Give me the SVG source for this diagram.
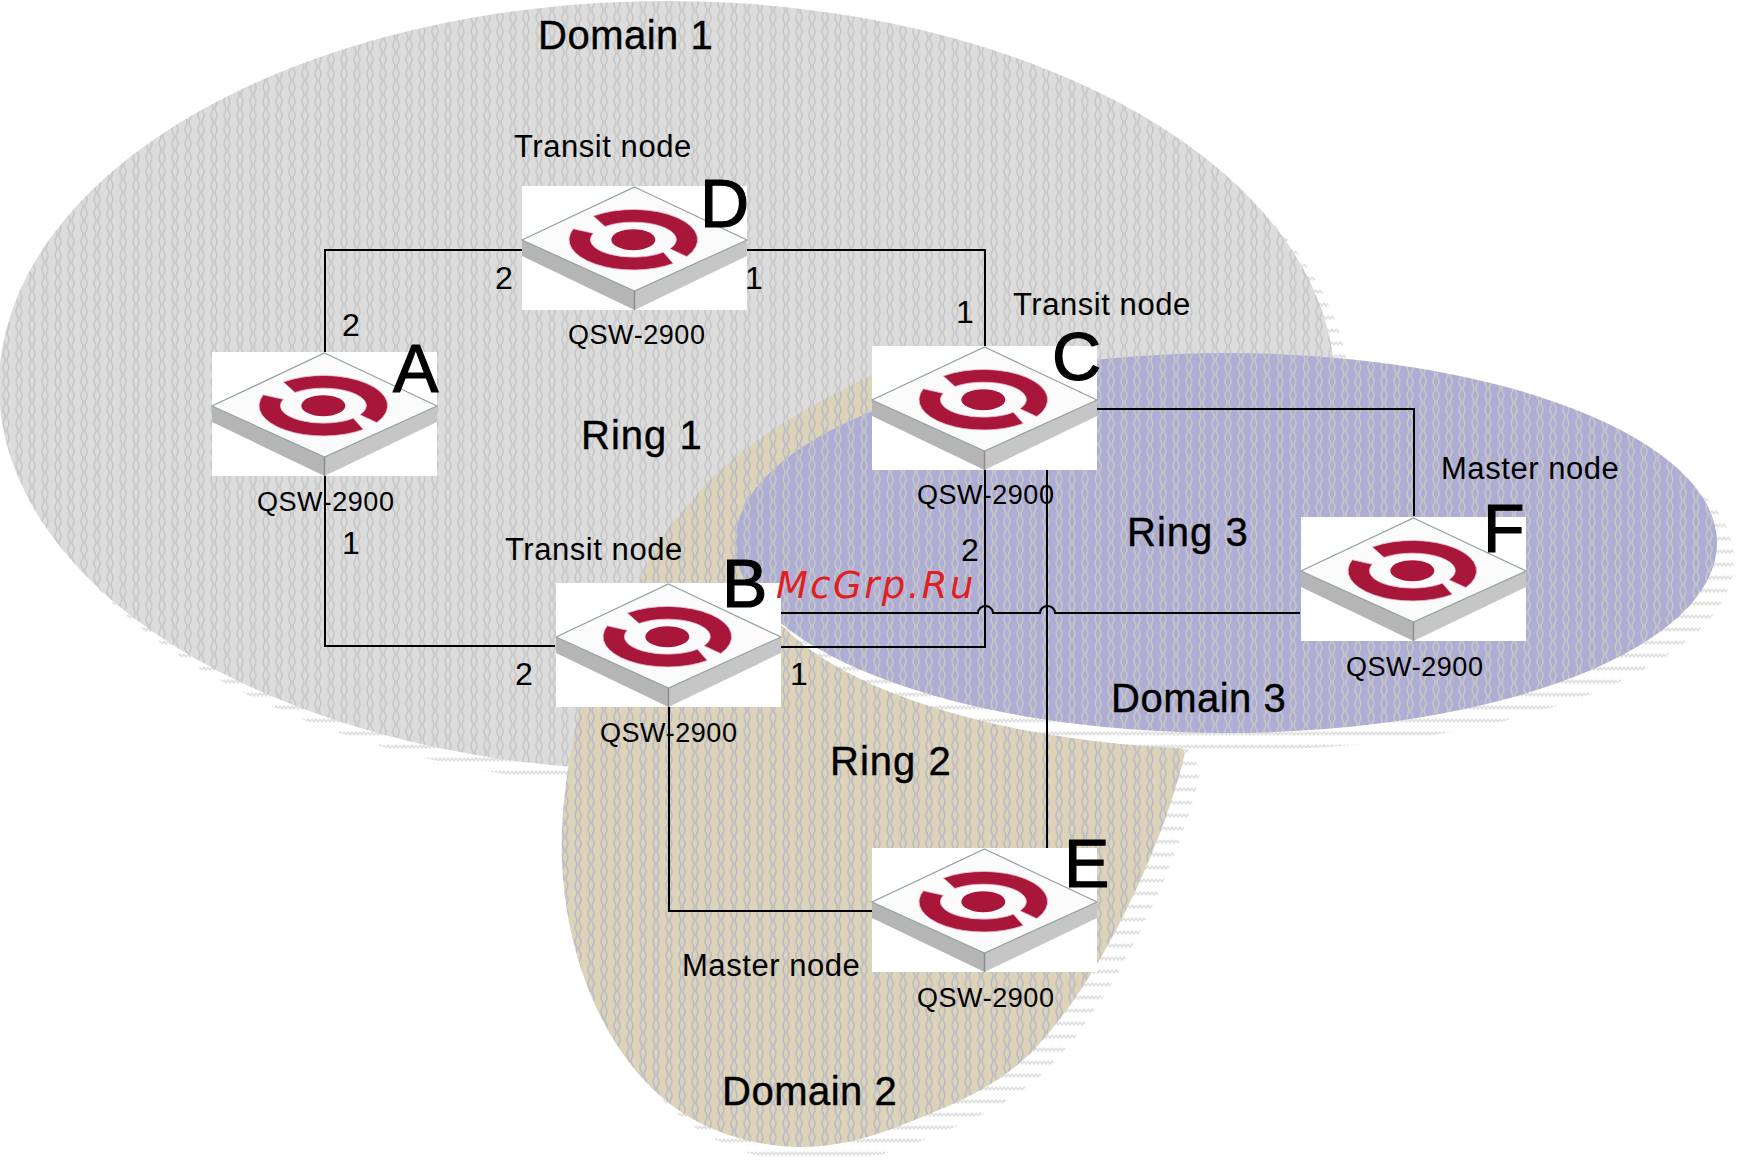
<svg xmlns="http://www.w3.org/2000/svg" xmlns:xlink="http://www.w3.org/1999/xlink" width="1737" height="1168" viewBox="0 0 1737 1168">
<style>
text{font-family:"Liberation Sans",Arial,sans-serif;fill:#000}
.dom{font-size:40px;letter-spacing:.5px;stroke:#000;stroke-width:.4px}
.ring{font-size:40px;letter-spacing:1px;stroke:#000;stroke-width:.4px}
.role{font-size:31px;letter-spacing:.55px}
.model{font-size:27px;letter-spacing:.55px}
.port{font-size:32px}
.letter{font-size:68px;stroke:#000;stroke-width:1.2px}
.wire{fill:none;stroke:#000;stroke-width:2}
.mark{font-family:"DejaVu Sans",sans-serif;font-style:italic;font-size:37px;letter-spacing:2.4px;fill:#e02020}
.shadow{fill:url(#pShadow)}
</style>
<defs>
<pattern id="pGray" width="13" height="14" patternUnits="userSpaceOnUse">
<rect width="13" height="14" fill="#dcdcdc"/>
<path d="M4 0q-2 3.500 0 7q2 3.500 0 7M8 0q2 3.500 0 7q-2 3.500 0 7" fill="none" stroke="#c8c8c8" stroke-width="1.7"/>
</pattern>
<pattern id="pTan" width="13" height="14" patternUnits="userSpaceOnUse">
<rect width="13" height="14" fill="#ddd3b8"/>
<path d="M4 0q-2 3.500 0 7q2 3.500 0 7M8 0q2 3.500 0 7q-2 3.500 0 7" fill="none" stroke="#bcbcc6" stroke-width="1.7"/>
</pattern>
<pattern id="pBlue" width="13" height="14" patternUnits="userSpaceOnUse">
<rect width="13" height="14" fill="#adadd6"/>
<path d="M4 0q-2 3.500 0 7q2 3.500 0 7M8 0q2 3.500 0 7q-2 3.500 0 7" fill="none" stroke="#c6c6c4" stroke-width="1.7"/>
</pattern>
<pattern id="pShadow" width="8" height="13" patternUnits="userSpaceOnUse">
<rect width="8" height="13" fill="#fff"/>
<path d="M0 4l2 3l2-3l2 3l2-3" fill="none" stroke="#dedede" stroke-width="1.4"/>
</pattern>
<path id="d2shape" d="M962 400L872 375C800 410 730 450 690 503C665 530 650 555 640 580C610 625 590 665 580 708C568 760 560 810 562 863C564 905 572 945 585 980C605 1035 635 1078 674 1107C712 1135 760 1147 803 1147C835 1147 868 1138 897 1127C950 1106 992 1090 1031 1053C1062 1020 1090 980 1116 930C1145 875 1170 815 1185 753Z"/>
<g id="switch">
<rect width="225" height="124" fill="#fff"/>
<path d="M0 54L112.500 105V124L0 70Z" fill="#b5b5b5"/>
<path d="M225 54L112.500 105V124L225 70Z" fill="#c6c6c6"/>
<path d="M112.500 1L225 54L112.500 105L0 54Z" fill="#fbfbfb" stroke="#93a3a0" stroke-width="1.2"/>
<path d="M112.500 105V124" stroke="#8c8c8c" stroke-width="1.5"/>
<path d="M71.300 30A64.300 30.300 0 0 1 164.700 70.600L148 62.800A43 17.500 0 0 0 83 40.500ZM151.300 77.400A64.300 30.300 0 0 1 51.300 42.800L71.300 47.300A43 17.500 0 0 0 141.300 66.200Z" fill="#a8173a" stroke="#eebccb" stroke-width="0.8"/>
<ellipse cx="111.300" cy="53.700" rx="22" ry="10.500" fill="#a8173a"/>
</g>
</defs>

<g id="domains">
<ellipse class="shadow" cx="683" cy="403" rx="668" ry="385"/>
<ellipse cx="667" cy="386" rx="668" ry="385" fill="url(#pGray)"/>
<use xlink:href="#d2shape" href="#d2shape" class="shadow" transform="translate(16 17)"/>
<use xlink:href="#d2shape" href="#d2shape" fill="url(#pTan)"/>
<ellipse class="shadow" cx="1243" cy="560" rx="491" ry="190"/>
<ellipse cx="1226" cy="543" rx="491" ry="190" fill="url(#pBlue)"/>
<text class="dom" x="538" y="49">Domain 1</text>
<text class="dom" x="722" y="1105">Domain 2</text>
<text class="dom" x="1111" y="712">Domain 3</text>
<text class="ring" x="581" y="449">Ring 1</text>
<text class="ring" x="830" y="775">Ring 2</text>
<text class="ring" x="1127" y="546">Ring 3</text>
</g>

<g id="connectors" shape-rendering="crispEdges">
<path class="wire" d="M325 352V250H522"/>
<path class="wire" d="M747 250H985V346"/>
<path class="wire" d="M325 476V646H555"/>
<path class="wire" d="M781 647H985V470"/>
<path class="wire" d="M1096 409H1414V516"/>
<path class="wire" d="M669 707V911H872"/>
<path class="wire" d="M1047 470V848"/>
</g>
<g id="connector-hops">
<path class="wire" d="M781 613H978A7.500 7 0 0 1 993 613H1040A7.500 7 0 0 1 1055 613H1300"/>
</g>

<g id="node-A">
<use xlink:href="#switch" href="#switch" x="212" y="352"/>
<text class="letter" x="393" y="392">A</text>
<text class="model" x="257" y="511">QSW-2900</text>
<text class="port" x="342" y="336">2</text>
<text class="port" x="342" y="554">1</text>
</g>
<g id="node-D">
<use xlink:href="#switch" href="#switch" x="522" y="186"/>
<text class="letter" x="700" y="227">D</text>
<text class="role" x="514" y="157">Transit node</text>
<text class="model" x="568" y="344">QSW-2900</text>
<text class="port" x="495" y="289">2</text>
<text class="port" x="745" y="289">1</text>
</g>
<g id="node-C">
<use xlink:href="#switch" href="#switch" x="872" y="346"/>
<text class="letter" x="1052" y="380">C</text>
<text class="role" x="1013" y="315">Transit node</text>
<text class="model" x="917" y="504">QSW-2900</text>
<text class="port" x="956" y="323">1</text>
<text class="port" x="961" y="561">2</text>
</g>
<g id="node-B">
<use xlink:href="#switch" href="#switch" x="556" y="583"/>
<text class="letter" x="722" y="607">B</text>
<text class="role" x="505" y="560">Transit node</text>
<text class="model" x="600" y="742">QSW-2900</text>
<text class="port" x="515" y="685">2</text>
<text class="port" x="790" y="685">1</text>
</g>
<g id="node-E">
<use xlink:href="#switch" href="#switch" x="872" y="848"/>
<text class="letter" x="1064" y="887">E</text>
<text class="role" x="682" y="976">Master node</text>
<text class="model" x="917" y="1007">QSW-2900</text>
</g>
<g id="node-F">
<use xlink:href="#switch" href="#switch" x="1301" y="517"/>
<text class="letter" x="1483" y="552">F</text>
<text class="role" x="1441" y="479">Master node</text>
<text class="model" x="1346" y="676">QSW-2900</text>
</g>
<text class="mark" x="776" y="598">McGrp.Ru</text>
</svg>
